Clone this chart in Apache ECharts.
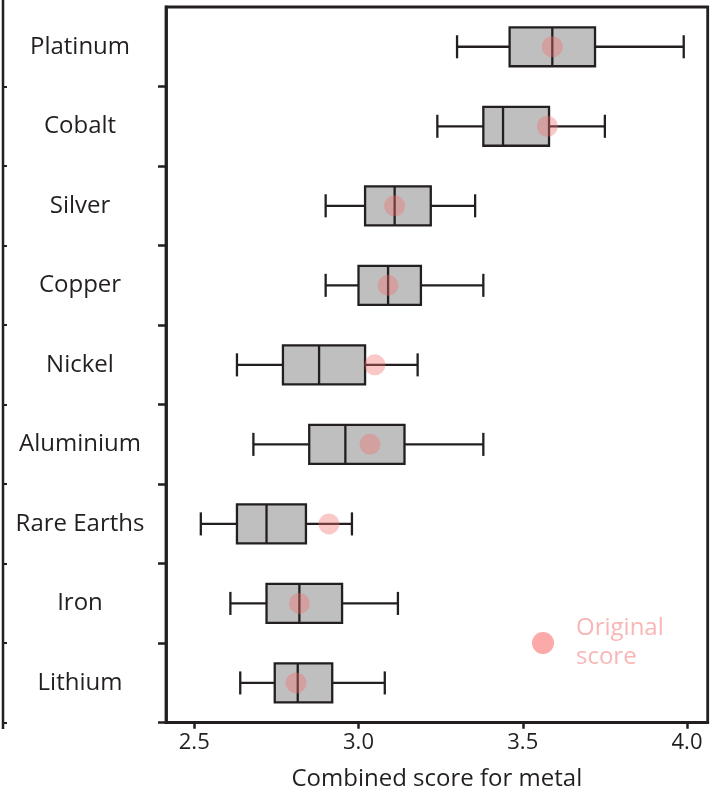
<!DOCTYPE html>
<html>
<head>
<meta charset="utf-8">
<script src="https://cdn.jsdelivr.net/npm/echarts@6/dist/echarts.min.js"></script>
<style>
  html, body { margin: 0; padding: 0; background: #ffffff; }
  #chart { width: 716px; height: 803px; }
</style>
</head>
<body>
<div id="chart"></div>
<script>
// Metals, top to bottom
const metals = ['Platinum', 'Cobalt', 'Silver', 'Copper', 'Nickel', 'Aluminium', 'Rare Earths', 'Iron', 'Lithium'];

// Box-and-whisker statistics of the combined score
const whiskerLow  = [3.30, 3.24, 2.90, 2.90, 2.63, 2.68, 2.52, 2.61, 2.64];
const quartile1   = [3.46, 3.38, 3.02, 3.00, 2.77, 2.85, 2.63, 2.72, 2.745];
const medianScore = [3.59, 3.44, 3.11, 3.09, 2.88, 2.96, 2.72, 2.82, 2.815];
const quartile3   = [3.72, 3.58, 3.22, 3.19, 3.02, 3.14, 2.84, 2.95, 2.92];
const whiskerHigh = [3.99, 3.75, 3.355, 3.38, 3.18, 3.38, 2.98, 3.12, 3.08];

// Original (unperturbed) score for each metal
const originalScore = [3.59, 3.575, 3.11, 3.09, 3.05, 3.035, 2.91, 2.82, 2.81];

// Value-axis ticks
const xTicks = [2.5, 3.0, 3.5, 4.0];

const INK = '#231f20';
const FONT = 'Open Sans';

const boxData = metals.map((m, i) => [i, whiskerLow[i], quartile1[i], medianScore[i], quartile3[i], whiskerHigh[i]]);
const dotData = metals.map((m, i) => [originalScore[i], i]);

function renderBox(params, api) {
  const cat = api.value(0);
  const pLo = api.coord([api.value(1), cat]);
  const pQ1 = api.coord([api.value(2), cat]);
  const pMd = api.coord([api.value(3), cat]);
  const pQ3 = api.coord([api.value(4), cat]);
  const pHi = api.coord([api.value(5), cat]);
  const band = api.size([0, 1])[1];
  const bh = band * 0.245;   // half box height
  const ch = band * 0.145;   // half whisker-cap height
  const y = pMd[1];
  const ls = { stroke: INK, lineWidth: 2.3 };
  return {
    type: 'group',
    children: [
      { type: 'line', shape: { x1: pLo[0], y1: y, x2: pQ1[0], y2: y }, style: ls },
      { type: 'line', shape: { x1: pQ3[0], y1: y, x2: pHi[0], y2: y }, style: ls },
      { type: 'line', shape: { x1: pLo[0], y1: y - ch, x2: pLo[0], y2: y + ch }, style: ls },
      { type: 'line', shape: { x1: pHi[0], y1: y - ch, x2: pHi[0], y2: y + ch }, style: ls },
      { type: 'rect', shape: { x: pQ1[0], y: y - bh, width: pQ3[0] - pQ1[0], height: 2 * bh },
        style: { fill: '#bfbfbf', stroke: INK, lineWidth: 2.3 } },
      { type: 'line', shape: { x1: pMd[0], y1: y - bh, x2: pMd[0], y2: y + bh }, style: ls }
    ]
  };
}

// hide the tick at the very top boundary
const skipTop = (idx) => idx !== 0;

const chart = echarts.init(document.getElementById('chart'), null, { renderer: 'canvas' });
chart.setOption({
  animation: false,
  backgroundColor: '#ffffff',
  textStyle: { fontFamily: FONT, color: INK },
  grid: [
    { left: 166, right: 8.3, top: 7, bottom: 80.3, show: true, borderColor: INK, borderWidth: 2.8 },
    { left: 3, width: 1, top: 7, bottom: 80.3 }
  ],
  legend: {
    data: ['Original score'],
    left: 532, top: 614, padding: 0,
    icon: 'circle', itemWidth: 22, itemHeight: 22,
    itemStyle: { color: '#fba9a9', opacity: 1 },
    formatter: () => 'Original\nscore',
    textStyle: { fontFamily: FONT, fontSize: 24, color: '#f9b6b6', lineHeight: 29, padding: [0, 0, 0, 17] },
    selectedMode: false
  },
  xAxis: [
    {
      gridIndex: 0, type: 'value', min: 2.414, max: 4.063, interval: 0.5,
      name: 'Combined score for metal', nameLocation: 'middle', nameGap: 44,
      nameTextStyle: { fontFamily: FONT, fontSize: 24, color: INK },
      axisLine: { show: true, lineStyle: { color: INK, width: 2.8 } },
      axisTick: { show: true, length: 6, lineStyle: { color: INK, width: 2.5 },
        customValues: xTicks },
      axisLabel: { fontFamily: FONT, fontSize: 22, color: INK, margin: 9,
        customValues: xTicks, formatter: v => v.toFixed(1) },
      splitLine: { show: false }
    },
    { gridIndex: 1, type: 'value', show: false }
  ],
  yAxis: [
    {
      gridIndex: 0, type: 'category', data: metals, inverse: true,
      axisLine: { show: true, lineStyle: { color: INK, width: 2.8 } },
      axisTick: { show: true, length: 8, interval: skipTop, lineStyle: { color: INK, width: 2.5 } },
      axisLabel: { fontFamily: FONT, fontSize: 24, color: INK, margin: 86, align: 'center' },
      splitLine: { show: false }
    },
    {
      gridIndex: 1, type: 'category', data: metals, inverse: true,
      axisLine: { show: false },
      axisTick: { show: true, inside: true, length: 4, interval: skipTop, lineStyle: { color: INK, width: 2 } },
      axisLabel: { show: false },
      splitLine: { show: false }
    }
  ],
  graphic: [
    { type: 'line', shape: { x1: 3, y1: 0, x2: 3, y2: 729 }, style: { stroke: INK, lineWidth: 2.5 }, silent: true }
  ],
  series: [
    {
      name: 'Score range', type: 'custom', xAxisIndex: 0, yAxisIndex: 0,
      data: boxData, encode: { x: [1, 2, 3, 4, 5], y: 0 },
      renderItem: renderBox, z: 2
    },
    {
      name: 'Original score', type: 'scatter', xAxisIndex: 0, yAxisIndex: 0,
      data: dotData, symbolSize: 21,
      itemStyle: { color: 'rgba(245,110,110,0.47)' }, z: 3
    }
  ]
});
</script>
</body>
</html>
